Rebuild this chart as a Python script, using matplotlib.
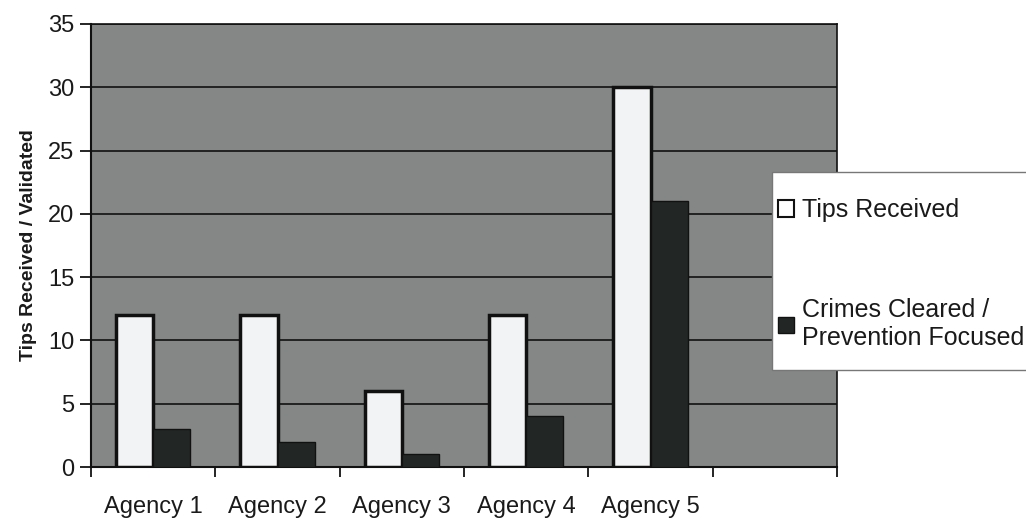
import matplotlib
matplotlib.use("Agg")
import matplotlib.pyplot as plt
import numpy as np
from matplotlib.patches import Patch, Rectangle

categories = ["Agency 1", "Agency 2", "Agency 3", "Agency 4", "Agency 5"]
tips_received = [12, 12, 6, 12, 30]
crimes_cleared = [3, 2, 1, 4, 21]
series_names = ["Tips Received", "Crimes Cleared /\nPrevention Focused"]
y_ticks = [0, 5, 10, 15, 20, 25, 30, 35]

plt.rcParams['font.family'] = ['Liberation Sans', 'DejaVu Sans']

W, H = 1026, 519
fig = plt.figure(figsize=(W / 100, H / 100), dpi=100)
ax = fig.add_axes([91 / W, 1 - 467 / H, (837 - 91) / W, (467 - 24) / H])
ax.set_facecolor('#858786')

x = np.arange(len(categories))
bw = 0.30
ax.set_axisbelow(True)
ax.yaxis.grid(True, color='#111111', linewidth=1.2)
ax.bar(x - bw / 2, tips_received, bw, color='#f2f3f4', edgecolor='#111111', linewidth=2.5, zorder=3)
ax.bar(x + bw / 2, crimes_cleared, bw, color='#222725', edgecolor='#111111', linewidth=1, zorder=3)

ax.set_xlim(-0.5, 5.5)
ax.set_ylim(0, 35)
ax.set_yticks(y_ticks)
ax.tick_params(axis='y', labelsize=17, length=8, width=1.2, pad=4, labelcolor='#1a1a1a')
ax.set_xticks(x)
ax.set_xticklabels(categories, fontsize=17, color='#1a1a1a')
ax.tick_params(axis='x', which='major', length=0, pad=21)
ax.set_xticks(np.arange(-0.5, 6.0, 1.0), minor=True)
ax.tick_params(axis='x', which='minor', length=7, width=1.2)
for s in ax.spines.values():
    s.set_color('#111111')
    s.set_linewidth(1.2)
ax.spines['left'].set_linewidth(1.5)
ax.spines['bottom'].set_linewidth(1.5)

ax.set_ylabel("Tips Received / Validated", fontsize=14, fontweight='bold', labelpad=8, color='#1a1a1a')

# legend box
fig.patches.append(Rectangle((772 / W, 1 - 370 / H), (1040 - 772) / W, (370 - 172) / H,
                             transform=fig.transFigure, facecolor='white',
                             edgecolor='#777777', linewidth=1, zorder=5))
handles = [Patch(facecolor='white', edgecolor='#111111', linewidth=1.5),
           Patch(facecolor='#222725', edgecolor='#111111', linewidth=1)]
leg = fig.legend(handles, series_names, loc='upper left',
                 bbox_to_anchor=(778 / W, 1 - 198 / H), bbox_transform=fig.transFigure,
                 fontsize=18, frameon=False, handlelength=0.65, handleheight=0.65,
                 handletextpad=0.3, labelspacing=3.05, borderpad=0, borderaxespad=0)
leg.set_zorder(6)
for t in leg.get_texts():
    t.set_color('#1a1a1a')
    t.set_linespacing(1.2)

fig.savefig("out.png", dpi=100)
